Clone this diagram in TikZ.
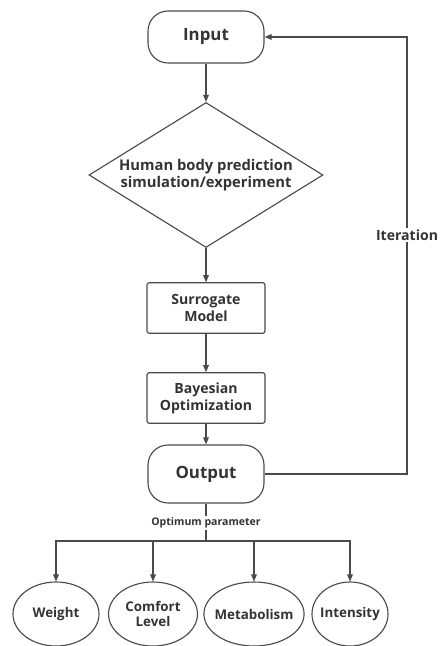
\documentclass[tikz,border=0pt]{standalone}
\usepackage{fontspec}
\setmainfont{Open Sans}
\usepackage{tikz}
\usetikzlibrary{arrows.meta,positioning,shapes.geometric}
\definecolor{linegray}{HTML}{4A4A4A}
\definecolor{textgray}{HTML}{333333}

\begin{document}
\begin{tikzpicture}[
  x=1cm, y=1cm,
  term/.style={draw=linegray, rounded corners=0.5cm, line width=0.8pt,
    minimum width=2.9cm, align=center, text=textgray,
    font=\fontsize{12}{14}\selectfont\bfseries},
  block/.style={draw=linegray, rounded corners=1.5pt, line width=0.8pt,
    minimum width=2.95cm, minimum height=1.26cm, align=center, text=textgray,
    font=\fontsize{10}{12}\selectfont\bfseries},
  dia/.style={draw=linegray, diamond, line width=0.8pt, inner sep=0pt,
    minimum width=5.85cm, minimum height=3.625cm},
  txt/.style={align=center, text=textgray,
    font=\fontsize{10.5}{12.5}\selectfont\bfseries},
  leaf/.style={draw=linegray, ellipse, line width=0.8pt, inner xsep=-2.9pt,
    inner ysep=0pt, minimum height=1.6cm, align=center, text=textgray,
    font=\fontsize{9.5}{11}\selectfont\bfseries},
  lab/.style={fill=white, inner sep=1pt, text=textgray},
  arr/.style={-{Triangle[length=5pt,width=4pt]}, draw=linegray, line width=0.8pt},
  line/.style={draw=linegray, line width=0.8pt}
]
\useasboundingbox (0,0) rectangle (11,-16.15);

\node[term, minimum height=1.3cm]  (in)  at (5.15, -0.925) {Input};
\node[dia]   (sim)    at (5.15, -4.375) {};
\node[txt]   (simtxt) at (sim.center)   {Human body prediction\\simulation/experiment};
\node[block] (sur)    at (5.15, -7.7)   {Surrogate\\Model};
\node[block] (bay)    at (5.15, -9.95)  {Bayesian\\Optimization};
\node[term, minimum height=1.45cm] (out) at (5.15, -11.85) {Output};

\node[leaf, minimum width=2.15cm]  (wt)  at (1.4,  -15.35) {Weight};
\node[leaf, minimum width=2.225cm] (cf)  at (3.825,-15.35) {Comfort\\Level};
\node[leaf, minimum width=2.45cm]  (met) at (6.35, -15.35) {Metabolism};
\node[leaf, minimum width=1.9cm]   (its) at (8.75, -15.35) {Intensity};

\draw[arr] (in)  -- (sim);
\draw[arr] (sim) -- (sur);
\draw[arr] (sur) -- (bay);
\draw[arr] (bay) -- (out);

% feedback loop
\coordinate (loop) at (10.175, -11.85);
\draw[arr] (out.east) -- (loop) |- (in.east);
\node[lab, font=\fontsize{10}{12}\selectfont\bfseries] (iter) at (10.175, -5.875) {Iteration};

% outputs
\coordinate (bus) at (5.15, -13.525);
\draw[line] (out.south) -- (bus);
\node[lab, font=\fontsize{7.5}{9}\selectfont\bfseries] (opt) at (5.15, -13.075) {Optimum parameter};
\draw[arr] (bus) -| (wt.north);
\draw[arr] (bus) -| (cf.north);
\draw[arr] (bus) -| (met.north);
\draw[arr] (bus) -| (its.north);
\end{tikzpicture}
\end{document}
